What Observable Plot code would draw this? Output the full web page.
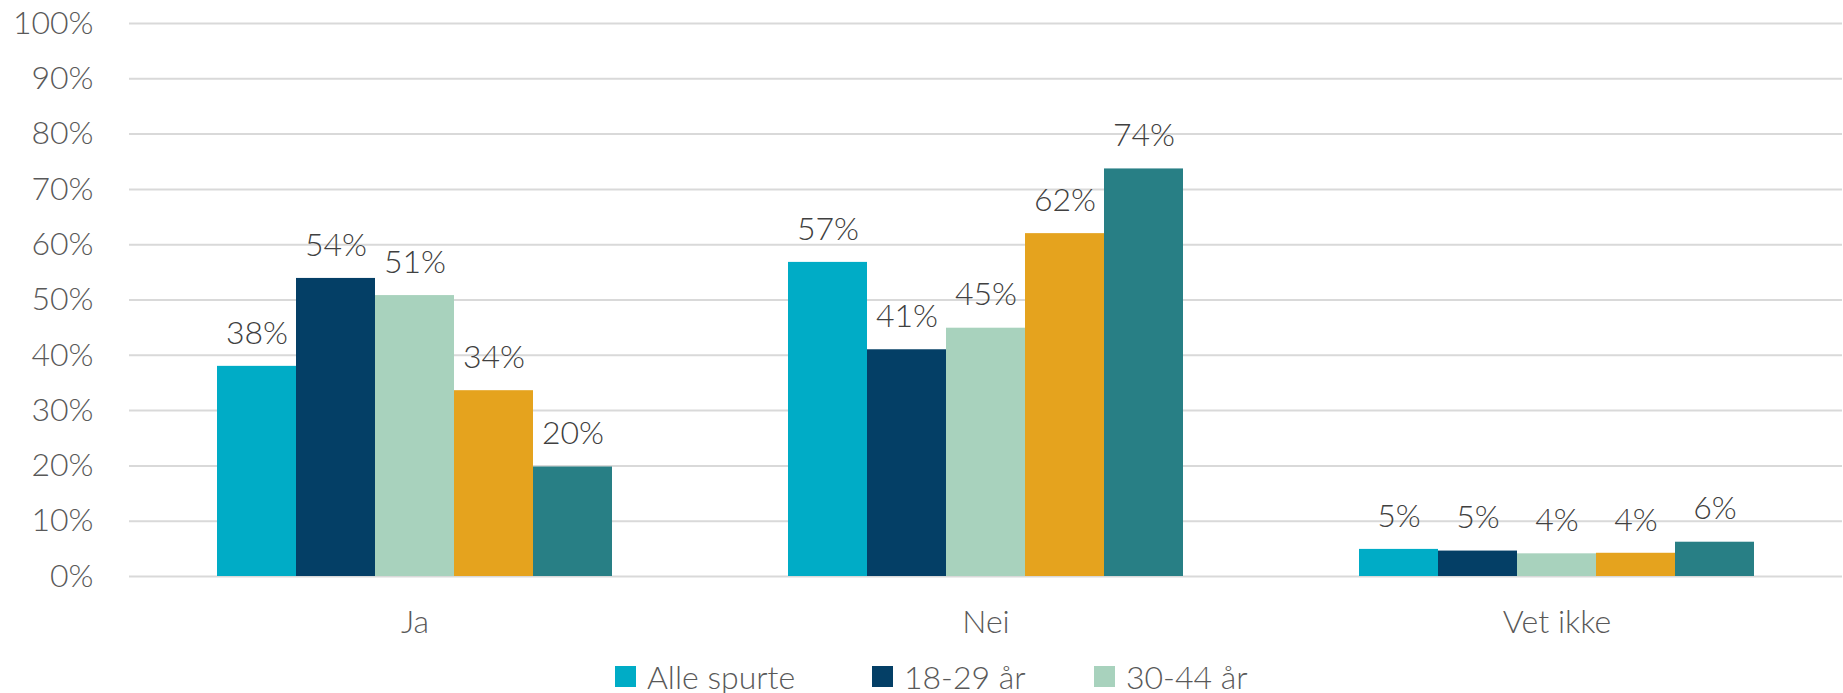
<!DOCTYPE html>
<html><head><meta charset="utf-8">
<script src="https://cdn.jsdelivr.net/npm/d3@7"></script>
<script src="https://cdn.jsdelivr.net/npm/@observablehq/plot@0.6"></script>
<style>
body{margin:0;background:#fff;font-family:Lato,"Open Sans",sans-serif;}
#chart{position:relative;width:1843px;height:693px;overflow:hidden;background:#fff}
.legend{position:relative;height:40px;}
.item{position:absolute;top:0;height:40px;display:flex;align-items:center;font-size:32px;color:#595959;font-weight:300;white-space:nowrap}
.sw{width:21px;height:21px;margin-right:11px;flex:none}
</style></head><body><div id="chart"></div>
<script>
const categories = ["Ja", "Nei", "Vet ikke"];
const series = ["Alle spurte", "18-29 år", "30-44 år", "45-59 år", "60 år +"];
const colors = ["#00ACC6", "#043F66", "#A8D2BD", "#E5A31E", "#287F85"];
const valuesJa = [38.0, 53.9, 50.8, 33.6, 19.8];
const valuesNei = [56.8, 41.0, 44.9, 62.0, 73.7];
const valuesVetIkke = [4.9, 4.6, 4.1, 4.2, 6.2];
const legendSeries = ["Alle spurte", "18-29 år", "30-44 år"];
const yTicks = [0, 10, 20, 30, 40, 50, 60, 70, 80, 90, 100];

const valuesByCategory = [valuesJa, valuesNei, valuesVetIkke];
const data = categories.flatMap((c, i) =>
  valuesByCategory[i].map((v, j) => ({category: c, series: series[j], value: v})));

const font = "Lato, 'Open Sans', sans-serif";
const plot = Plot.plot({
  width: 1843, height: 656,
  marginTop: 23, marginBottom: 80, marginLeft: 128, marginRight: 0,
  style: {fontFamily: font, fontSize: "32px", color: "#595959", background: "#fff", fontWeight: 300},
  fx: {domain: categories, padding: 0, label: null},
  x: {domain: series, paddingInner: 0, paddingOuter: 1.105, axis: null},
  y: {domain: [0, 100], label: null},
  color: {domain: series, range: colors},
  marks: [
    Plot.gridY(yTicks, {stroke: "#d9d9d9", strokeOpacity: 1, strokeWidth: 2}),
    Plot.axisY({ticks: yTicks, tickFormat: d => d + "%", tickSize: 0, tickPadding: 36, fontSize: 32, fill: "#595959", label: null}),
    Plot.axisFx({anchor: "bottom", tickSize: 0, tickPadding: 34, fontSize: 32, fill: "#595959", label: null}),
    Plot.barY(data, {fx: "category", x: "series", y: "value", fill: "series"}),
    Plot.text(data, {fx: "category", x: "series", y: "value", text: d => Math.round(d.value) + "%", dy: -33, fill: "#404040", fontSize: 32})
  ]
});
const chart = document.getElementById("chart");
chart.appendChild(plot);

const legend = document.createElement("div");
legend.className = "legend";
const lefts = [615, 872, 1094];
legendSeries.forEach((s, i) => {
  const item = document.createElement("div");
  item.className = "item";
  item.style.left = lefts[i] + "px";
  const sw = document.createElement("span");
  sw.className = "sw";
  sw.style.background = colors[series.indexOf(s)];
  const t = document.createElement("span");
  t.textContent = s;
  item.appendChild(sw); item.appendChild(t);
  legend.appendChild(item);
});
chart.appendChild(legend);
</script></body></html>
